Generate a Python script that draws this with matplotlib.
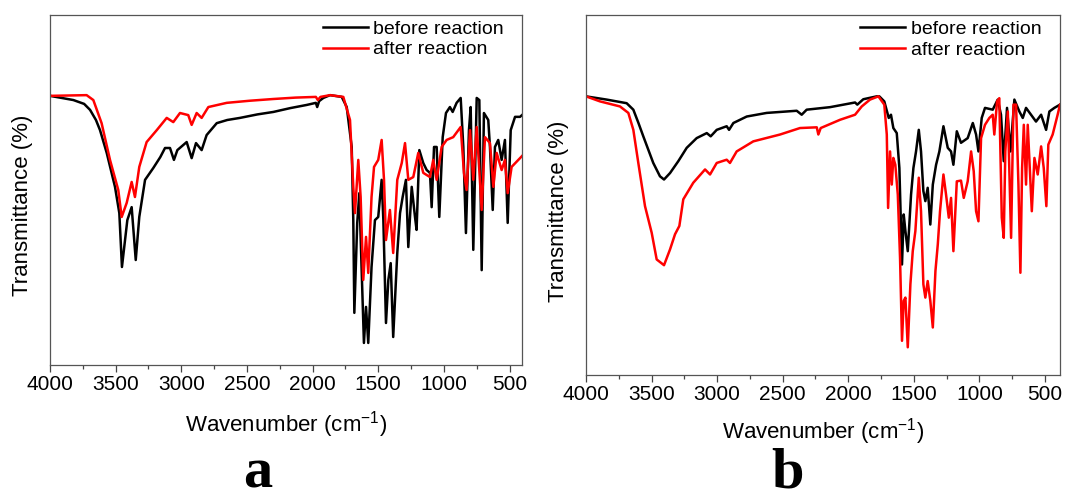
import matplotlib
matplotlib.use("Agg")
import matplotlib.pyplot as plt
from matplotlib.ticker import MultipleLocator

plt.rcParams['font.family'] = ['Liberation Sans', 'DejaVu Sans']
plt.rcParams['mathtext.fontset'] = 'custom'
plt.rcParams['mathtext.rm'] = 'Liberation Sans'
plt.rcParams['mathtext.it'] = 'Liberation Sans:italic'
plt.rcParams['mathtext.bf'] = 'Liberation Sans:bold'

# (wavenumber cm-1, transmittance a.u.)
a_before = [(4000,76.9),(3822,75.7),(3740,74.6),(3695,72.9),(3650,70.0),(3619,67.1),(3568,60.6),(3505,50.9),(3472,43.4),(3452,28.0),
            (3411,41.4),(3378,45.1),(3347,30.0),(3320,42.3),(3276,52.9),(3213,56.3),(3160,59.4),(3124,62.0),(3086,62.0),
            (3056,58.6),(3030,61.4),(2959,63.7),(2921,59.1),(2888,63.4),(2845,61.4),(2807,65.7),(2730,69.1),
            (2650,70.0),(2553,70.6),(2420,71.6),(2299,72.3),(2170,73.4),(2045,74.3),(1975,74.9),(1965,73.7),(1950,75.4),(1918,76.3),(1867,77.1),
            (1778,76.6),(1740,73.7),(1702,62.3),(1690,41.4),(1682,14.9),(1660,40.6),(1644,49.1),(1627,28.0),
            (1609,6.3),(1593,16.6),(1576,6.3),(1551,28.0),(1525,41.4),(1500,42.3),(1474,52.9),(1461,41.4),
            (1441,12.0),(1423,24.3),(1405,29.1),(1386,8.0),(1355,32.0),(1334,43.4),(1314,48.0),(1289,52.9),
            (1271,33.7),(1245,50.9),(1220,42.3),(1208,38.6),(1187,61.4),(1157,57.7),(1131,55.7),(1106,54.9),
            (1093,45.1),(1075,62.3),(1055,62.3),(1035,42.3),(1009,65.1),(984,72.0),(954,73.7),(933,72.3),
            (903,74.9),(872,76.3),(852,62.3),(832,37.7),(809,67.1),(796,73.7),(776,32.9),(750,76.3),
            (730,75.7),(712,27.1),(695,72.0),(662,70.0),(649,62.3),(628,44.3),(611,62.3),(586,64.3),
            (560,58.6),(535,64.3),(514,40.6),(491,67.1),(458,70.9),(420,70.9),(405,71.4)]

a_after = [(4000,76.9),(3721,77.1),(3670,75.7),(3607,69.1),(3543,58.6),(3480,50.0),(3454,42.3),(3416,46.3),
           (3378,52.3),(3353,48.0),(3320,56.6),(3264,63.7),(3187,67.1),(3111,70.6),(3061,69.4),(3010,72.0),
           (2947,71.4),(2921,68.6),(2883,72.0),(2845,70.6),(2794,73.7),(2654,74.9),(2480,75.5),(2299,76.0),(2130,76.4),(1975,76.6),
           (1960,75.7),(1940,76.6),(1867,77.1),(1766,76.6),(1715,70.0),(1690,50.9),(1677,43.4),(1652,58.6),
           (1634,48.0),(1614,24.3),(1593,36.6),(1576,26.3),(1551,48.0),(1532,56.6),(1500,58.6),(1474,64.3),
           (1456,52.9),(1441,35.7),(1411,44.3),(1386,32.0),(1355,52.9),(1321,57.7),(1296,63.4),(1271,52.9),
           (1233,53.7),(1195,60.6),(1157,54.9),(1106,53.7),(1081,58.6),(1055,52.9),(1017,62.3),(979,64.3),
           (929,65.1),(872,68.0),(847,54.9),(827,50.0),(801,67.1),(776,52.9),(750,68.0),(712,44.3),
           (687,65.1),(649,63.4),(623,50.9),(598,60.6),(560,55.7),(535,58.6),(514,49.1),(484,56.6),(405,59.7)]

b_before = [(4000,77.4),(3842,76.5),(3690,75.5),(3639,73.7),(3600,70.0),(3563,66.3),(3487,58.9),(3436,55.2),(3405,54.3),
            (3359,56.1),(3296,59.4),(3232,63.1),(3156,65.8),(3079,67.2),(3049,66.3),(3003,68.1),(2927,69.1),
            (2909,68.1),(2876,70.0),(2774,71.8),(2622,72.8),(2393,73.4),(2355,72.3),(2317,73.7),(2139,74.4),
            (1948,75.7),(1931,75.1),(1885,76.6),(1783,77.4),(1763,77.4),(1725,76.0),(1691,71.4),(1674,72.3),
            (1656,68.6),(1630,67.2),(1610,57.5),(1590,30.7),(1577,44.6),(1564,40.0),(1546,34.4),(1521,50.1),
            (1503,57.5),(1483,62.1),(1462,68.1),(1445,62.1),(1427,51.1),(1412,48.3),(1394,52.0),(1374,41.8),
            (1355,52.9),(1330,58.4),(1305,62.1),(1274,69.1),(1241,63.1),(1216,62.1),(1198,58.4),(1172,67.7),
            (1140,64.5),(1089,65.8),(1050,70.0),(1025,66.8),(1007,62.1),(982,71.4),(957,74.2),(898,73.7),
            (860,76.5),(835,72.3),(814,59.4),(789,74.2),(763,62.1),(733,76.5),(695,73.2),(669,71.4),
            (644,74.2),(606,72.3),(568,70.4),(529,72.3),(491,68.1),(466,73.2),(428,74.2),(385,75.1)]

b_after = [(4000,77.4),(3893,76.0),(3741,74.6),(3677,72.8),(3639,68.1),(3601,58.9),(3550,46.9),(3499,39.5),
           (3461,32.1),(3405,30.5),(3359,34.9),(3321,39.1),(3288,41.4),(3258,48.8),(3182,53.4),(3092,57.1),
           (3054,55.7),(3003,58.9),(2927,59.8),(2902,58.9),(2851,62.1),(2724,64.9),(2520,66.8),(2368,68.6),
           (2240,68.8),(2228,66.8),(2210,68.6),(2062,70.9),(1948,72.3),(1897,74.6),(1834,76.5),(1770,77.4),
           (1725,75.1),(1706,66.8),(1696,46.4),(1681,62.1),(1668,52.9),(1656,60.3),(1641,58.4),(1622,50.1),
           (1605,32.6),(1590,9.5),(1577,20.6),(1564,21.5),(1546,7.7),(1526,25.2),(1508,34.4),(1488,40.0),
           (1462,54.8),(1445,45.5),(1427,25.2),(1412,21.5),(1394,26.1),(1374,20.6),(1355,13.2),(1335,28.9),
           (1317,36.3),(1300,45.5),(1274,55.7),(1254,50.1),(1233,43.7),(1216,49.2),(1198,34.4),(1172,53.8),
           (1140,54.0),(1119,49.2),(1089,53.8),(1063,62.1),(1043,56.6),(1025,45.5),(1007,42.7),(987,65.8),
           (957,69.5),(924,71.4),(898,72.3),(886,66.8),(865,76.0),(848,76.9),(829,43.7),(814,38.1),
           (802,62.1),(783,73.2),(758,38.1),(740,75.1),(720,75.1),(702,52.9),(687,28.4),(674,57.5),
           (661,69.5),(644,52.9),(631,69.5),(600,45.5),(580,60.3),(555,55.7),(529,63.5),(509,57.5),
           (489,46.9),(474,64.0),(441,66.8),(403,72.3),(385,75.1)]

series_labels = ["before reaction", "after reaction"]
panel_letters = ["a", "b"]
xtick_values = [4000, 3500, 3000, 2500, 2000, 1500, 1000, 500]

fig = plt.figure(figsize=(10.67, 5.0), dpi=100)
ax_a = fig.add_axes([50/1067, 1-365/500, 472/1067, 350/500])
ax_b = fig.add_axes([586/1067, 1-375/500, 474/1067, 360/500])

panels = [(ax_a, a_before, a_after, (4000, 405), 258/1067),
          (ax_b, b_before, b_after, (4000, 385), 787/1067)]

for i, (ax, before, after, xl, letter_x) in enumerate(panels):
    for data, color, lab in ((before, 'black', series_labels[0]), (after, '#ff0000', series_labels[1])):
        wn = [p[0] for p in data]
        tr = [p[1] for p in data]
        ax.plot(wn, tr, color=color, lw=1.8, label=lab, solid_joinstyle='round')
    ax.set_xlim(*xl)
    ax.set_ylim(0, 100)
    ax.set_xticks(xtick_values)
    ax.xaxis.set_minor_locator(MultipleLocator(250))
    ax.tick_params(axis='x', which='major', direction='out', length=5, width=0.9,
                   labelsize=15, pad=2, color='#444444')
    ax.tick_params(axis='x', which='minor', direction='out', length=3, width=0.9, color='#444444')
    ax.set_yticks([])
    for s in ax.spines.values():
        s.set_color('#555555')
        s.set_linewidth(0.9)
    ax.set_xlabel("Wavenumber (cm$^{-1}$)", fontsize=16)
    ax.set_ylabel("Transmittance (%)", fontsize=16)
    ax.xaxis.set_label_coords(0.5, -0.125 if i == 0 else -0.115)
    ax.yaxis.set_label_coords(-0.036, 0.455)
    ax.legend(loc='upper left', bbox_to_anchor=(0.578, 0.985), frameon=False, fontsize=14,
              handlelength=2.3, handletextpad=0.3, labelspacing=0.15, borderpad=0, borderaxespad=0)
    fig.text(letter_x, 0.002, panel_letters[i], fontsize=42, fontweight='bold',
             family=['Liberation Serif', 'DejaVu Serif'], ha='center', va='bottom')

fig.savefig("out.png", dpi=100)
